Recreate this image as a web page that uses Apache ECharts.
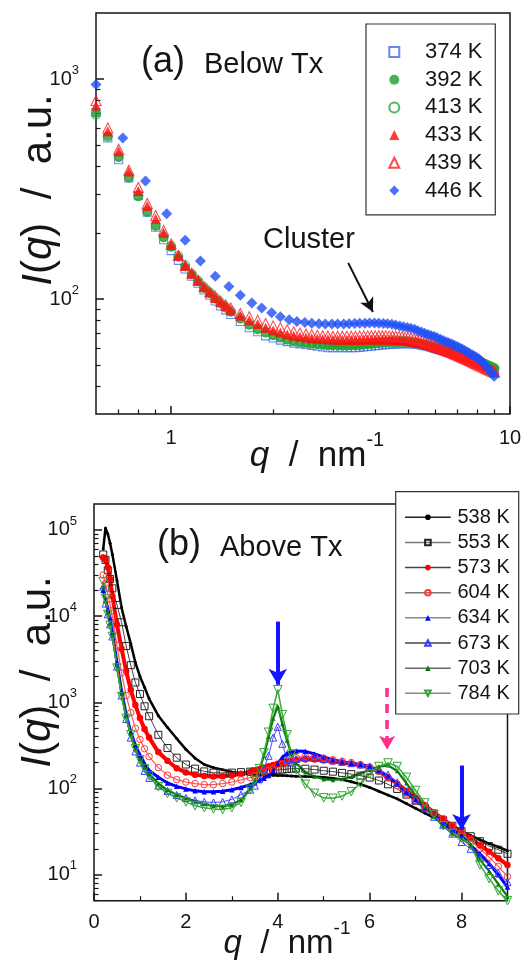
<!DOCTYPE html>
<html><head><meta charset="utf-8">
<script src="https://cdn.jsdelivr.net/npm/echarts@6/dist/echarts.min.js"></script>
<style>html,body{margin:0;padding:0;background:#fff}#c{width:523px;height:965px}</style>
</head><body><div id="c"></div>
<script>
const FONT = '"Liberation Sans", Arial, Helvetica, sans-serif';

// ---------- panel (a): below Tx ----------
const topNames = ['374 K', '392 K', '413 K', '433 K', '439 K', '446 K'];
const qTop = [0.6,0.65,0.7,0.75,0.8,0.85,0.9,0.95,1.0,1.05,1.1,1.15,1.2,1.25,1.3,1.35,1.4,1.45,1.5,1.6,1.7,1.8,1.9,2.0,2.1,2.2,2.3,2.4,2.5,2.6,2.7,2.8,2.9,3.0,3.1,3.2,3.3,3.4,3.5,3.6,3.7,3.8,3.9,4.0,4.1,4.2,4.3,4.4,4.5,4.6,4.7,4.8,4.9,5.0,5.1,5.2,5.3,5.4,5.5,5.6,5.7,5.8,5.9,6.0,6.1,6.2,6.3,6.4,6.5,6.6,6.7,6.8,6.9,7.0,7.1,7.2,7.3,7.4,7.5,7.6,7.7,7.8,7.9,8.0,8.1,8.2,8.3,8.4,8.5,8.6,8.7,8.8,8.9,9.0];
const I374 = [705,540,430,355,295,248,212,186,166,150,137,127,118,110,104,98,93,89,85,
  79,74,71,68,66.5,65,64,63,62.5,62,61.5,61,60.5,60,60,60,60,60,60,60,60.3,60.5,60.8,61,61.3,61.5,61.8,62,62.2,62.3,62.5,62.6,62.7,62.7,62.7,62.6,62.5,62.3,62,61.7,61.3,61,60.5,60,59.6,59.2,58.8,58.4,58,57.6,57.2,56.8,56.4,56,55.5,55,54.6,54.2,53.8,53.4,53,52.6,52.2,51.8,51.4,51,50.6,50.2,49.8,49.4,49,48.6,48.2,47.8,47.4];
const I392 = [700,550,440,355,292,248,214,190,172,155,140,129,120,112,106,100,95,91,87,
  81,76,72.5,70,68,66.5,65,64,63.3,62.8,62.3,62,61.7,61.5,61.3,61.2,61.1,61.1,61.2,61.3,61.5,61.7,62,62.2,62.5,62.7,63,63.2,63.4,63.5,63.6,63.7,63.7,63.6,63.5,63.3,63,62.7,62.3,62,61.6,61.2,60.8,60.4,60,59.6,59.2,58.8,58.4,58,57.6,57.2,56.8,56.4,56,55.6,55.2,54.8,54.4,54,53.6,53.2,52.8,52.4,52,51.6,51.2,50.8,50.4,50,49.6,49.2,48.8,48.4,48];
const I413 = [690,548,445,360,296,251,216,192,174,157,142,130,121,113,107,101,96,92,88,
  82,77,73.5,71,69,67.5,66,65,64.3,63.7,63.2,62.8,62.5,62.3,62.1,62,62,62,62.1,62.2,62.4,62.6,62.8,63,63.2,63.4,63.6,63.8,64,64.1,64.2,64.2,64.2,64.1,64,63.8,63.5,63.2,62.8,62.4,62,61.6,61.2,60.8,60.4,60,59.6,59.2,58.8,58.4,58,57.6,57.2,56.8,56.4,56,55.6,55.2,54.8,54.4,54,53.6,53.2,52.8,52.4,52,51.6,51.2,50.8,50.4,50,49.6,49.2,48.8,48.4];
const I433 = [760,580,470,380,310,265,232,200,176,158,143,131,121,113,107,101,97,93,89,
  84,80,77,74,72,70.5,69,68,67.3,66.8,66.3,66,65.8,65.6,65.5,65.4,65.3,65.3,65.3,65.3,65.3,65.4,65.4,65.5,65.5,65.5,65.5,65.5,65.4,65.3,65.2,65,64.8,64.6,64.4,64.1,63.8,63.5,63.1,62.7,62.3,61.8,61.3,60.8,60.3,59.8,59.3,58.8,58.3,57.8,57.3,56.8,56.3,55.8,55.3,54.8,54.3,53.9,53.5,53.1,52.7,52.3,51.9,51.5,51.1,50.7,50.3,49.9,49.5,49.1,48.7,48.3,47.9,47.5,47.1];
const I439 = [800,600,480,385,322,272,240,205,178,158,142,131,122,114,108,103,98,94,91,
  86,83,80,77.5,75.5,74,72.5,71,70,69.3,68.8,68.4,68.1,67.9,67.8,67.7,67.7,67.7,67.8,67.8,67.9,68,68,68.1,68.1,68.1,68.1,68.1,68,67.9,67.8,67.6,67.4,67.1,66.8,66.5,66.1,65.7,65.2,64.7,64.1,63.5,62.9,62.3,61.7,61.1,60.5,59.9,59.3,58.7,58.1,57.5,56.9,56.3,55.7,55.1,54.5,54,53.5,53,52.5,52,51.5,51,50.5,50,49.6,49.2,48.8,48.4,48,47.6,47.2,46.8,46.5];
const qDiamond = [0.6,0.72,0.84,0.97,1.1,1.22,1.35,1.48,1.6,1.73,1.85,1.98,2.1,2.23,2.35,2.48,2.6,2.73,2.85,2.98,3.1,3.23,3.35,3.48,3.6,3.73,3.85,3.98,4.1,4.23,4.35,4.48,4.6,4.73,4.85,4.98,5.1,5.23,5.35,5.48,5.6,5.73,5.85,5.98,6.1,6.23,6.35,6.48,6.6,6.73,6.85,6.98,7.1,7.23,7.35,7.48,7.6,7.73,7.85,7.98,8.1,8.23,8.35,8.48,8.6,8.73,8.85,8.98];
const I446 = [946,540,344,244,185,149,127,114,104,96,91,86.7,83,80.5,79,78.2,77.6,77.3,77,77,77,77,77.2,77.4,77.6,77.7,77.8,77.8,77.7,77.5,77.2,76.8,76.2,75.5,74.8,74.2,73.7,72.8,71.8,70.8,69.8,69,68.3,67.5,66.6,65.6,64.7,64,63.2,62.4,61.6,60.8,60,59.2,58.3,57.5,56.7,55.8,55,54.2,53.4,52.2,51,49.7,48.4,47.1,45.8,44.5];
const topXTicks = [1, 10];
const topXMinor = [0.7, 0.8, 0.9, 2, 3, 4, 5, 6, 7, 8, 9];
const topYTicks = [100, 1000];
const topYMinor = [40, 50, 60, 70, 80, 90, 200, 300, 400, 500, 600, 700, 800, 900];

// ---------- panel (b): above Tx ----------
const bottomNames = ['538 K', '553 K', '573 K', '604 K', '634 K', '673 K', '703 K', '784 K'];
const qB = [0.2,0.25,0.3,0.35,0.4,0.5,0.6,0.7,0.8,0.9,1.0,1.1,1.2,1.4,1.6,1.8,2.0,2.2,2.4,2.6,2.8,3.0,3.2,3.4,3.5,3.6,3.7,3.8,3.9,4.0,4.1,4.2,4.3,4.4,4.6,4.8,5.0,5.2,5.4,5.6,5.8,6.0,6.2,6.4,6.6,6.8,7.0,7.2,7.4,7.6,7.8,8.0,8.2,8.4,8.6,8.8,9.0];
const I538 = [60000,105000,90000,70000,52000,26000,12500,7600,4800,2900,2000,1500,1100,700,510,380,285,225,190,175,165,156,150,146,144,143,143,143,143,142,142,141,140,139,138,137,135,132,127,120,112,103,93,84,76,67,59,52,46,41,36,32,28.5,25.5,23,21,19];
const I553 = [52000,45000,34000,27000,21000,13500,8500,4500,2700,1700,1250,900,690,420,295,228,190,170,158,153,152,153,155,157,158,160,161,163,164,165,166,168,170,171,170,166,161,157,152,147,141,134,124,112,99,85,72,60,51,43,37,32,28,24.5,21.5,19.5,17.5];
const I573 = [48000,45000,37000,27000,17000,8000,4200,2300,1400,930,660,490,390,265,210,172,154,145,140,138,139,142,148,156,161,167,174,181,188,194,200,205,210,214,218,217,212,206,200,194,186,175,157,135,114,94,78,64,53,44,37,31.5,26.5,22,18.5,15.5,13];
const I604 = [30000,24000,18000,13500,9800,4600,2200,1200,760,500,370,290,235,175,143,127,119,114,111,111,114,119,126,134,140,147,155,163,170,178,190,205,218,228,238,234,225,216,208,200,190,178,158,134,108,87,71,60,52,45,37,30.5,25,20,16,12.5,9.5];
const I634 = [20000,15500,12000,9500,6500,2900,1350,720,450,320,245,195,162,135,116,106,99,94,92,92,93,97,103,111,117,124,132,142,160,195,230,255,268,272,270,252,232,216,205,197,190,180,162,140,113,90,74,60,49,40,33,28.5,22,17.5,13.5,10,7.2];
const I673 = [22000,14000,10500,8000,5800,2600,1200,640,390,270,200,160,133,108,94,84,78,73,70,69,70,75,85,97,108,130,170,240,390,520,330,220,200,220,232,228,220,212,204,197,190,180,165,145,118,92,74,59,47,38,30,24,20,16,13,10.5,8.2];
const I703 = [22000,15000,11000,8200,6000,2700,1250,700,430,290,220,175,148,115,96,85,77,71,66,63,62,65,74,100,125,165,240,400,650,900,560,360,250,195,155,138,128,126,129,137,150,165,180,186,160,115,83,62,47,37,30,26.5,22,15,11,7.8,5.6];
const I784 = [25000,16000,10500,7800,5800,2500,1170,650,420,290,215,170,140,105,88,78,70,63,60,58,57,60,69,98,125,170,260,450,850,1400,720,420,250,165,112,88,78,77,82,92,115,148,180,198,180,135,95,68,50,37,30,27,22,13,9,6.5,5];
const botXTicks = [0, 2, 4, 6, 8];
const botXMinor = [1, 3, 5, 7];
const botYTicks = [10, 100, 1000, 10000, 100000];
const botYMinor = [5,6,7,8,9,20,30,40,50,60,70,80,90,200,300,400,500,600,700,800,900,2000,3000,4000,5000,6000,7000,8000,9000,20000,30000,40000,50000,60000,70000,80000,90000];

// ---------- helpers ----------
function pairs(q, v) { return q.map((x, i) => [x, v[i]]); }
function powLabel(v) {
  const e = v > 9 ? Math.round(Math.log10(v)) : Math.round(v);
  return '{b|10}{s|' + e + '}';
}
const INK = '#151515';
const powRich = {
  b: { fontSize: 20, fontFamily: FONT, color: INK },
  s: { fontSize: 13, fontFamily: FONT, color: INK, padding: [0, 0, 18, 0] }
};
const CLEAR = 'rgba(0,0,0,0)';

function majorX(grid, type, min, max, ticks, fmt, margin) {
  return {
    type, gridIndex: grid, min, max, position: 'bottom',
    axisLine: { show: false }, splitLine: { show: false },
    axisTick: { show: true, inside: true, length: 8, customValues: ticks, lineStyle: { color: INK, width: 1.5 } },
    axisLabel: { show: true, customValues: ticks, formatter: fmt, fontSize: 20, fontFamily: FONT, color: INK, margin }
  };
}
function minorX(grid, type, min, max, ticks) {
  return {
    type, gridIndex: grid, min, max, position: 'bottom',
    axisLine: { show: false }, splitLine: { show: false },
    axisTick: { show: true, inside: true, length: 4.5, customValues: ticks, lineStyle: { color: INK, width: 1.2 } },
    axisLabel: { show: false }
  };
}
function majorY(grid, min, max, ticks, margin) {
  return {
    type: 'log', gridIndex: grid, min, max, position: 'left',
    axisLine: { show: false }, splitLine: { show: false },
    axisTick: { show: true, inside: true, length: 8, customValues: ticks, lineStyle: { color: INK, width: 1.5 } },
    axisLabel: { show: true, customValues: ticks, formatter: powLabel, rich: powRich, margin }
  };
}
function minorY(grid, min, max, ticks) {
  return {
    type: 'log', gridIndex: grid, min, max, position: 'left',
    axisLine: { show: false }, splitLine: { show: false },
    axisTick: { show: true, inside: true, length: 4.5, customValues: ticks, lineStyle: { color: INK, width: 1.2 } },
    axisLabel: { show: false }
  };
}

function topScatter(name, data, symbol, size, itemStyle, extra) {
  return Object.assign({
    name, type: 'scatter', xAxisIndex: 0, yAxisIndex: 0, data,
    symbol, symbolSize: size, itemStyle, animation: false, silent: true
  }, extra || {});
}
function botLine(name, data, symbol, size, lineStyle, itemStyle, extra) {
  return Object.assign({
    name, type: 'line', xAxisIndex: 2, yAxisIndex: 2, data,
    symbol, symbolSize: size, showSymbol: true, showAllSymbol: true,
    lineStyle, itemStyle, animation: false, silent: true
  }, extra || {});
}

const series = [
  topScatter(topNames[0], pairs(qTop, I374), 'rect', 8, { color: CLEAR, borderColor: '#3f6ff0', borderWidth: 1.1 }),
  topScatter(topNames[1], pairs(qTop, I392), 'circle', 9, { color: '#1f9e2a' }),
  topScatter(topNames[2], pairs(qTop, I413), 'circle', 9, { color: CLEAR, borderColor: '#2aa535', borderWidth: 1.1 }),
  topScatter(topNames[3], pairs(qTop, I433), 'triangle', 10, { color: '#ff0a0a' }),
  topScatter(topNames[4], pairs(qTop, I439), 'triangle', 10, { color: CLEAR, borderColor: '#ff2020', borderWidth: 1.1 }),
  topScatter(topNames[5], pairs(qDiamond, I446), 'diamond', 11, { color: '#1f4ff5' }, {
    markLine: {
      silent: true, animation: false, symbol: ['none', 'arrow'], symbolSize: [11, 14],
      label: { show: false },
      lineStyle: { color: '#111', width: 2, type: 'solid' },
      data: [[{ coord: [3.33, 146] }, { coord: [3.94, 87.3] }]]
    }
  }),
  botLine(bottomNames[0], pairs(qB, I538), 'circle', 3, { color: '#000', width: 2.5 }, { color: '#000' }, {
    markLine: {
      silent: true, animation: false, symbol: ['none', 'arrow'], symbolSize: [14, 16],
      label: { show: false },
      data: [
        [{ coord: [4, 8650], lineStyle: { color: '#1414ff', width: 4, type: 'solid' } }, { coord: [4, 1600] }],
        [{ coord: [8, 185], lineStyle: { color: '#1414ff', width: 4, type: 'solid' } }, { coord: [8, 33] }],
        [{ coord: [6.38, 1470], lineStyle: { color: '#ff2d8c', width: 3.5, type: [9, 7] } }, { coord: [6.38, 281], symbolSize: [12, 14] }]
      ]
    }
  }),
  botLine(bottomNames[1], pairs(qB, I553), 'rect', 7, { color: '#444', width: 1 }, { color: CLEAR, borderColor: '#222', borderWidth: 1 }),
  botLine(bottomNames[2], pairs(qB, I573), 'circle', 6.5, { color: '#ff0000', width: 4 }, { color: '#ff0000' }),
  botLine(bottomNames[3], pairs(qB, I604), 'circle', 6.5, { color: '#ff5555', width: 1.2 }, { color: CLEAR, borderColor: '#ff3a3a', borderWidth: 1 }),
  botLine(bottomNames[4], pairs(qB, I634), 'triangle', 5.5, { color: '#0000ff', width: 3 }, { color: '#0000ff' }),
  botLine(bottomNames[5], pairs(qB, I673), 'triangle', 7, { color: '#5050ff', width: 1 }, { color: CLEAR, borderColor: '#3c3cff', borderWidth: 1 }),
  botLine(bottomNames[6], pairs(qB, I703), 'triangle', 4.5, { color: '#0b7a0b', width: 2.2 }, { color: '#0b7a0b' }),
  botLine(bottomNames[7], pairs(qB, I784), 'triangle', 8.5, { color: '#3aaa3a', width: 1.5 }, { color: CLEAR, borderColor: '#32a832', borderWidth: 1 }, { symbolRotate: 180 })
];

const legendLineColors = ['#222', '#777', '#444', '#777', '#888', '#444', '#666', '#888'];

const option = {
  backgroundColor: '#fff',
  animation: false,
  grid: [
    { left: 96, top: 13, width: 414, height: 401, show: true, borderColor: INK, borderWidth: 1.5, backgroundColor: CLEAR, outerBoundsMode: 'none', containLabel: false },
    { left: 94, top: 504, width: 413.5, height: 396.7, show: true, borderColor: INK, borderWidth: 1.5, backgroundColor: CLEAR, outerBoundsMode: 'none', containLabel: false }
  ],
  xAxis: [
    majorX(0, 'log', 0.6, 10, topXTicks, v => String(Math.round(v > 0.95 ? v : Math.pow(10, v))), 14),
    minorX(0, 'log', 0.6, 10, topXMinor),
    majorX(1, 'value', 0, 9, botXTicks, v => String(v), 12),
    minorX(1, 'value', 0, 9, botXMinor)
  ],
  yAxis: [
    majorY(0, 30, 2000, topYTicks, 17),
    minorY(0, 30, 2000, topYMinor),
    majorY(1, 5, 200000, botYTicks, 17),
    minorY(1, 5, 200000, botYMinor)
  ],
  legend: [
    {
      data: topNames, orient: 'vertical', left: 366, top: 24,
      padding: [17, 12.8, 13.3, 22.3], itemWidth: 10, itemHeight: 10, itemGap: 5.7,
      selectedMode: false, borderColor: '#333', borderWidth: 1.2, backgroundColor: '#fff',
      textStyle: { fontSize: 22, lineHeight: 22, fontFamily: FONT, color: INK, padding: [0, 0, 0, 20.7] }
    },
    {
      data: bottomNames.map((n, i) => ({ name: n, lineStyle: { color: legendLineColors[i], width: 1.5, type: 'solid' } })),
      orient: 'vertical', left: 395.7, top: 491.7,
      padding: [15.6, 9, 10.7, 8.6], itemWidth: 45.7, itemHeight: 7, itemGap: 5.14,
      selectedMode: false, borderColor: '#333', borderWidth: 1.2, backgroundColor: '#fff',
      textStyle: { fontSize: 20, lineHeight: 20, fontFamily: FONT, color: INK, padding: [0, 0, 0, 1.7] }
    }
  ],
  graphic: [
    { type: 'text', x: 141, y: 62.4, style: { text: '(a)', fontSize: 36, fontFamily: FONT, fill: INK, align: 'left', verticalAlign: 'middle' } },
    { type: 'text', x: 204, y: 64.8, style: { text: 'Below Tx', fontSize: 29, fontFamily: FONT, fill: INK, align: 'left', verticalAlign: 'middle' } },
    { type: 'text', x: 263, y: 239.8, style: { text: 'Cluster', fontSize: 29, fontFamily: FONT, fill: INK, align: 'left', verticalAlign: 'middle' } },
    { type: 'text', x: 157, y: 545.4, style: { text: '(b)', fontSize: 36, fontFamily: FONT, fill: INK, align: 'left', verticalAlign: 'middle' } },
    { type: 'text', x: 220, y: 547.8, style: { text: 'Above Tx', fontSize: 29, fontFamily: FONT, fill: INK, align: 'left', verticalAlign: 'middle' } },
    { type: 'text', x: 39, y: 190, rotation: Math.PI / 2, style: {
        text: '{i|I}{n|(}{i|q}{n|)  /  a.u.}', align: 'center', verticalAlign: 'middle', fill: INK,
        rich: { i: { fontSize: 42, fontFamily: FONT, fontStyle: 'italic', fill: INK }, n: { fontSize: 42, fontFamily: FONT, fill: INK } } } },
    { type: 'text', x: 38, y: 672, rotation: Math.PI / 2, style: {
        text: '{i|I}{n|(}{i|q}{n|)  /  a.u.}', align: 'center', verticalAlign: 'middle', fill: INK,
        rich: { i: { fontSize: 42, fontFamily: FONT, fontStyle: 'italic', fill: INK }, n: { fontSize: 42, fontFamily: FONT, fill: INK } } } },
    { type: 'text', x: 317, y: 456, style: {
        text: '{i|q}{n|  /  nm}{s|-1}', align: 'center', verticalAlign: 'middle', fill: INK,
        rich: { i: { fontSize: 35, fontFamily: FONT, fontStyle: 'italic', fill: INK }, n: { fontSize: 35, fontFamily: FONT, fill: INK }, s: { fontSize: 20, fontFamily: FONT, fill: INK, padding: [0, 0, 32, 0] } } } },
    { type: 'text', x: 287, y: 944, style: {
        text: '{i|q}{n|  /  nm}{s|-1}', align: 'center', verticalAlign: 'middle', fill: INK,
        rich: { i: { fontSize: 33, fontFamily: FONT, fontStyle: 'italic', fill: INK }, n: { fontSize: 33, fontFamily: FONT, fill: INK }, s: { fontSize: 19, fontFamily: FONT, fill: INK, padding: [0, 0, 30, 0] } } } }
  ],
  series
};

const chart = echarts.init(document.getElementById('c'), null, { renderer: 'canvas', width: 523, height: 965 });
chart.setOption(option);
</script>
</body></html>
